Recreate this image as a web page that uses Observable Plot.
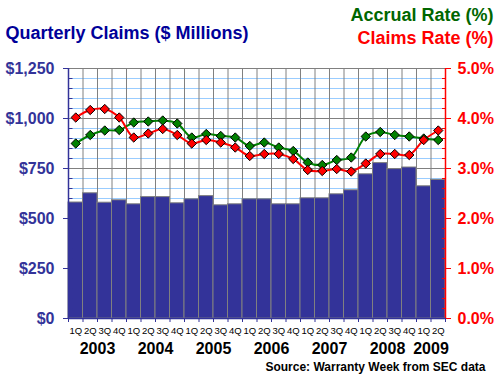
<!DOCTYPE html>
<html>
<head>
<meta charset="utf-8">
<script src="https://cdn.jsdelivr.net/npm/d3@7"></script>
<script src="https://cdn.jsdelivr.net/npm/@observablehq/plot@0.6"></script>
<style>
  html, body { margin: 0; padding: 0; background: #fff; }
  #chart svg { display: block; }
</style>
</head>
<body>
<div id="chart"></div>
<script>
// ---- data ----
const years = [2003,2003,2003,2003, 2004,2004,2004,2004, 2005,2005,2005,2005, 2006,2006,2006,2006, 2007,2007,2007,2007, 2008,2008,2008,2008, 2009,2009];
const quarters = ["1Q","2Q","3Q","4Q", "1Q","2Q","3Q","4Q", "1Q","2Q","3Q","4Q", "1Q","2Q","3Q","4Q", "1Q","2Q","3Q","4Q", "1Q","2Q","3Q","4Q", "1Q","2Q"];
const claims = [580,626,579,591, 571,607,607,576, 596,612,566,571, 596,596,571,571, 601,601,621,641, 721,777,747,755, 661,693];
const accrualRate = [3.50,3.67,3.76,3.77, 3.92,3.94,3.96,3.90, 3.62,3.69,3.65,3.62, 3.45,3.52,3.42,3.35, 3.12,3.07,3.17,3.22, 3.64,3.73,3.67,3.64, 3.60,3.57];
const claimsRate = [4.02,4.17,4.19,4.02, 3.62,3.70,3.79,3.67, 3.50,3.57,3.52,3.42, 3.25,3.29,3.29,3.19, 2.97,2.95,2.99,2.94, 3.10,3.29,3.29,3.27, 3.57,3.76];
const leftTicks = [0, 250, 500, 750, 1000, 1250];
const minorStep = 50;

const titleText = "Quarterly Claims ($ Millions)";
const accrualTitle = "Accrual Rate (%)";
const claimsTitle = "Claims Rate (%)";
const sourceText = "Source: Warranty Week from SEC data";

// ---- derived tables ----
const RATE_TO_Y = 1250 / 5; // 5% maps to the top of the $ axis
const rows = claims.map((c, i) => ({
  i, year: years[i], q: quarters[i], claims: c,
  accrual: accrualRate[i] * RATE_TO_Y, rate: claimsRate[i] * RATE_TO_Y
}));
const n = rows.length;
const bounds = d3.range(n + 1).map(k => k - 0.5);
const inner = bounds.slice(1, -1);
const minors = d3.range(0, 1250 + 1, minorStep).filter(v => v % 250 !== 0);
const yearRows = d3.groups(rows, d => d.year).map(([y, rs]) => ({year: String(y), x: d3.mean(rs, d => d.i)}));

const font = "'Liberation Sans', Arial, Helvetica, sans-serif";
const NAVY = "#333399";

const chart = Plot.plot({
  width: 500,
  height: 388,
  marginTop: 68,
  marginBottom: 70,
  marginLeft: 68,
  marginRight: 55,
  x: {type: "linear", domain: [-0.5, n - 0.5], axis: null},
  y: {domain: [0, 1250], axis: null},
  style: {fontFamily: font, background: "#fff", overflow: "visible"},
  marks: [
    // minor grid (light blue) and major grid (gray)
    Plot.ruleY(minors, {stroke: "#99CCFF", strokeWidth: 1}),
    Plot.ruleY(leftTicks.filter(v => v > 0), {stroke: "#808080", strokeWidth: 1}),
    Plot.ruleX(inner, {stroke: "#808080", strokeWidth: 1}),
    // bars
    Plot.rectY(rows, {x1: d => d.i - 0.5, x2: d => d.i + 0.5, y: "claims", fill: NAVY, stroke: "#808080", strokeWidth: 1}),
    // axis lines
    Plot.ruleX([-0.5], {stroke: NAVY, strokeWidth: 1.5}),
    Plot.ruleX([n - 0.5], {stroke: "#FF0000", strokeWidth: 1.5}),
    Plot.ruleY([0], {stroke: NAVY, strokeWidth: 1.5}),
    // left axis
    Plot.axisY({anchor: "left", ticks: leftTicks, tickSize: 5, tickPadding: 9, tickFormat: d3.format("$,"),
      fontSize: 16, fontWeight: "bold", color: NAVY, label: null}),
    Plot.axisY({anchor: "left", ticks: minors, tickSize: 4, dx: 4.5, tickFormat: () => "", color: NAVY, label: null}),
    // right axis
    Plot.axisY({anchor: "right", ticks: leftTicks, tickSize: 5, tickPadding: 7,
      tickFormat: d => (d / RATE_TO_Y).toFixed(1) + "%", fontSize: 16, fontWeight: "bold", color: "#FF0000", label: null}),
    Plot.axisY({anchor: "right", ticks: minors, tickSize: 4, dx: -4, tickFormat: () => "", color: "#FF0000", label: null}),
    // bottom ticks
    Plot.axisX({ticks: bounds, tickSize: 4, tickFormat: () => "", color: NAVY, label: null}),
    // lines
    Plot.line(rows, {x: "i", y: "accrual", stroke: "#008000", strokeWidth: 2, curve: "catmull-rom"}),
    Plot.line(rows, {x: "i", y: "rate", stroke: "#FF0000", strokeWidth: 2, curve: "catmull-rom"}),
    Plot.dot(rows, {x: "i", y: "accrual", symbol: d3.symbolDiamond2, r: 4.2, fill: "#008000", stroke: "#000", strokeWidth: 1}),
    Plot.dot(rows, {x: "i", y: "rate", symbol: d3.symbolDiamond2, r: 4.2, fill: "#FF0000", stroke: "#000", strokeWidth: 1}),
    // x labels
    Plot.text(rows, {x: "i", y: () => 0, text: "q", dy: 12, fontSize: 9.5, letterSpacing: "-0.3px", fill: "#000"}),
    Plot.text(yearRows, {x: "x", y: () => 0, text: "year", dy: 30, fontSize: 16, fontWeight: "bold", fill: "#000"}),
    // titles
    Plot.text([titleText], {frameAnchor: "top-left", dx: -63, dy: -42, textAnchor: "start", fontSize: 18, fontWeight: "bold", fill: "#000099"}),
    Plot.text([accrualTitle], {frameAnchor: "top-right", dx: 48, dy: -60, textAnchor: "end", fontSize: 18, fontWeight: "bold", fill: "#006600"}),
    Plot.text([claimsTitle], {frameAnchor: "top-right", dx: 48, dy: -37, textAnchor: "end", fontSize: 18, fontWeight: "bold", fill: "#FF0000"}),
    Plot.text([sourceText], {frameAnchor: "bottom-right", dx: 40, dy: 52, textAnchor: "end", fontSize: 12, fontWeight: "bold", fill: "#000"})
  ]
});
document.getElementById("chart").appendChild(chart);
</script>
</body>
</html>
